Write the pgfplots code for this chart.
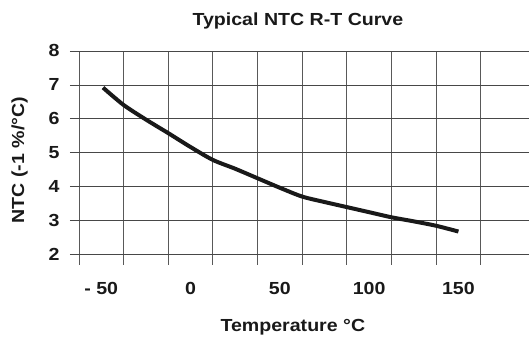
\documentclass[border=0pt]{standalone}
\usepackage{pgfplots}
\pgfplotsset{compat=1.18}
\usepackage{fontspec}
\setmainfont{Liberation Sans}[FakeStretch=1.12]
\begin{document}
\begin{tikzpicture}[x=1bp,y=1bp]
\begin{axis}[
  scale only axis,
  width=459bp, height=214bp,
  xmin=-67.5, xmax=189.3,
  ymin=1.7, ymax=8,
  axis line style={draw=none},
  xtick={-50,0,50,100,150},
  xticklabels={- 50,0,50,100,150},
  ytick={2,3,4,5,6,7,8},
  yticklabels={2,3,4,5,6,7,8},
  minor xtick={-62.5,-37.5,-12.5,12.5,37.5,62.5,87.5,112.5,137.5,162.5},
  xmajorgrids=false, xminorgrids=true, ymajorgrids=true,
  minor grid style={draw=black!65, line width=0.75pt},
  major grid style={draw=black!72, line width=0.75pt},
  major tick length=0pt, minor tick length=0pt,
  tick label style={font=\fontsize{17.5bp}{19bp}\selectfont\bfseries, text=black!90},
  xticklabel style={yshift=-14bp},
  yticklabel style={xshift=-7bp},
  title={Typical NTC R-T Curve},
  title style={at={(0.497,1.112)}, anchor=center, font=\fontsize{17.5bp}{19bp}\selectfont\bfseries, text=black!90},
  xlabel={Temperature °C},
  xlabel style={at={(0.486,-0.29)}, anchor=center, font=\fontsize{17.5bp}{19bp}\selectfont\bfseries, text=black!90},
  ylabel={NTC (-1 \%/°C)},
  ylabel style={at={(-0.11,0.49)}, anchor=center, rotate=0, font=\fontsize{17.5bp}{19bp}\selectfont\bfseries, text=black!90},
]
\addplot[line width=4bp, color=black!90, smooth, tension=0.45] coordinates {
  (-49,6.92) (-37.5,6.41) (-25,5.98) (-12.5,5.58) (0,5.17) (12.5,4.79)
  (25,4.53) (37.5,4.25) (50,3.97) (62.5,3.71) (75,3.55) (87.5,3.40)
  (100,3.25) (112.5,3.10) (125,2.98) (137.5,2.85) (150,2.68)
};
\end{axis}
\path[use as bounding box] ([shift={(-70bp,-70bp)}]current axis.south west) rectangle ([shift={(0bp,51bp)}]current axis.north east);
\end{tikzpicture}
\end{document}
